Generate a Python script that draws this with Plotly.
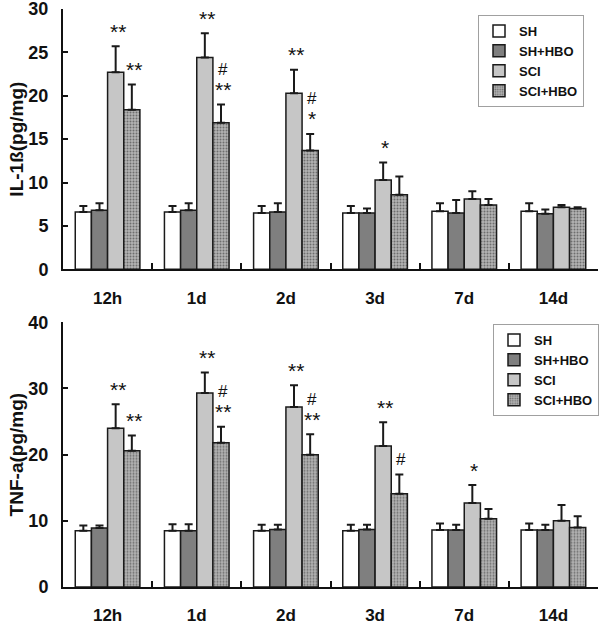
import plotly.graph_objects as go

groups = ["12h", "1d", "2d", "3d", "7d", "14d"]
series = ["SH", "SH+HBO", "SCI", "SCI+HBO"]

# IL-1ß (pg/mg) means and upper SD
il1b_vals = {
    "SH":      [6.6, 6.6, 6.5, 6.5, 6.7, 6.7],
    "SH+HBO":  [6.8, 6.8, 6.6, 6.5, 6.5, 6.4],
    "SCI":     [22.7, 24.4, 20.3, 10.3, 8.1, 7.15],
    "SCI+HBO": [18.4, 16.9, 13.7, 8.6, 7.4, 7.0],
}
il1b_err = {
    "SH":      [0.7, 0.7, 0.8, 0.8, 0.9, 0.9],
    "SH+HBO":  [0.8, 0.8, 1.0, 0.5, 1.5, 0.5],
    "SCI":     [3.0, 2.8, 2.7, 2.0, 0.9, 0.25],
    "SCI+HBO": [2.9, 2.1, 1.9, 2.1, 0.7, 0.15],
}

# TNF-a (pg/mg) means and upper SD
tnf_vals = {
    "SH":      [8.5, 8.5, 8.5, 8.5, 8.6, 8.6],
    "SH+HBO":  [8.9, 8.5, 8.7, 8.7, 8.6, 8.6],
    "SCI":     [24.0, 29.3, 27.2, 21.3, 12.7, 10.0],
    "SCI+HBO": [20.6, 21.8, 20.0, 14.1, 10.3, 9.0],
}
tnf_err = {
    "SH":      [0.8, 1.0, 0.9, 0.9, 1.0, 1.0],
    "SH+HBO":  [0.4, 1.0, 0.7, 0.7, 0.8, 0.8],
    "SCI":     [3.6, 3.1, 3.3, 3.6, 2.7, 2.4],
    "SCI+HBO": [2.3, 2.4, 3.1, 2.9, 1.5, 1.7],
}

# significance marks: (group, series, stacked labels bottom->top)
il1b_marks = [
    ("12h", "SCI", ["**"]), ("12h", "SCI+HBO", ["**"]),
    ("1d", "SCI", ["**"]), ("1d", "SCI+HBO", ["**", "#"]),
    ("2d", "SCI", ["**"]), ("2d", "SCI+HBO", ["*", "#"]),
    ("3d", "SCI", ["*"]),
]
tnf_marks = [
    ("12h", "SCI", ["**"]), ("12h", "SCI+HBO", ["**"]),
    ("1d", "SCI", ["**"]), ("1d", "SCI+HBO", ["**", "#"]),
    ("2d", "SCI", ["**"]), ("2d", "SCI+HBO", ["**", "#"]),
    ("3d", "SCI", ["**"]), ("3d", "SCI+HBO", ["#"]),
    ("7d", "SCI", ["*"]),
]

FONT = "Arial, Liberation Sans, sans-serif"
colors = {"SH": "#ffffff", "SH+HBO": "#7f7f7f", "SCI": "#c6c6c6", "SCI+HBO": "#a9a9a9"}

W, H = 600, 626
ML, MR, MT, MB = 63, 2, 9, 39
plot_w = W - ML - MR
plot_h = H - MT - MB
top_dom = [(587 - 269.3) / plot_h, 1.0]
bot_dom = [0.0, (587 - 322.3) / plot_h]
BARGAP = 0.275
cat_px = plot_w / len(groups)
bar_px = cat_px * (1 - BARGAP) / 4

fig = go.Figure()


def add_panel(vals, errs, xa, ya, legend):
    for s in series:
        marker = dict(color=colors[s], line=dict(color="#1a1a1a", width=1.5))
        if s == "SCI+HBO":
            marker["pattern"] = dict(shape=".", bgcolor="#b4b4b4", fgcolor="#6e6e6e",
                                     size=3, solidity=0.35, fillmode="replace")
        fig.add_trace(go.Bar(
            x=groups, y=vals[s], name=s, xaxis=xa, yaxis=ya, legend=legend,
            marker=marker,
            error_y=dict(type="data", symmetric=False, array=errs[s],
                         arrayminus=[0] * len(groups), color="#1a1a1a",
                         thickness=2, width=4),
        ))


add_panel(il1b_vals, il1b_err, "x", "y", "legend")
add_panel(tnf_vals, tnf_err, "x2", "y2", "legend2")

annotations = []


def add_marks(marks, vals, errs, xref, yref):
    for g, s, labels in marks:
        i = groups.index(g)
        k = series.index(s)
        top = vals[s][i] + errs[s][i]
        for j, lab in enumerate(labels):
            star = "*" in lab
            annotations.append(dict(
                x=g, y=top, xref=xref, yref=yref, text=lab, showarrow=False,
                xshift=(k - 1.5) * bar_px + 2,
                yshift=15 + 20 * j,
                yanchor="middle",
                font=dict(family=FONT, size=21 if star else 17, color="#111111"),
            ))


add_marks(il1b_marks, il1b_vals, il1b_err, "x", "y")
add_marks(tnf_marks, tnf_vals, tnf_err, "x2", "y2")

xcommon = dict(
    type="category", showline=True, linecolor="#111111", linewidth=2,
    ticks="inside", tickson="boundaries", ticklen=6, tickwidth=2, tickcolor="#111111",
    tickfont=dict(family=FONT, size=17, color="#111111", weight="bold"),
    ticklabelstandoff=12, showgrid=False, zeroline=False, fixedrange=True,
)
ycommon = dict(
    showline=True, linecolor="#111111", linewidth=2,
    ticks="inside", ticklen=5, tickwidth=2, tickcolor="#111111",
    tickfont=dict(family=FONT, size=18, color="#111111", weight="bold"),
    ticklabelstandoff=9, ticklabeloverflow="allow",
    showgrid=False, zeroline=False, fixedrange=True,
)

legcommon = dict(
    font=dict(family=FONT, size=13, color="#111111", weight="bold"),
    bgcolor="rgba(255,255,255,1)", bordercolor="#a0a0a0", borderwidth=1,
    xanchor="right", yanchor="top", traceorder="normal", itemwidth=30,
    tracegroupgap=0,
)

title_font = dict(family=FONT, size=19, color="#111111", weight="bold")

fig.update_layout(
    width=W, height=H,
    margin=dict(l=ML, r=MR, t=MT, b=MB, autoexpand=False),
    paper_bgcolor="white", plot_bgcolor="white",
    barmode="group", bargap=BARGAP, bargroupgap=0,
    showlegend=True,
    xaxis=dict(domain=[0, 1], anchor="y", **xcommon),
    yaxis=dict(domain=top_dom, anchor="x", range=[0, 30], dtick=5,
               title=dict(text="IL-1ß(pg/mg)", standoff=0, font=title_font),
               **ycommon),
    xaxis2=dict(domain=[0, 1], anchor="y2", **xcommon),
    yaxis2=dict(domain=bot_dom, anchor="x2", range=[0, 40], dtick=10,
                title=dict(text="TNF-a(pg/mg)", standoff=0, font=title_font),
                **ycommon),
    legend=dict(x=(584 - ML) / plot_w, y=(587 - 15) / plot_h, **legcommon),
    legend2=dict(x=(599 - ML) / plot_w, y=(587 - 324) / plot_h, **legcommon),
    annotations=annotations,
)

fig.write_html(
    "out.html",
    config={"displayModeBar": False},
    post_script="document.body.style.margin='0';document.body.style.overflow='hidden';",
)
